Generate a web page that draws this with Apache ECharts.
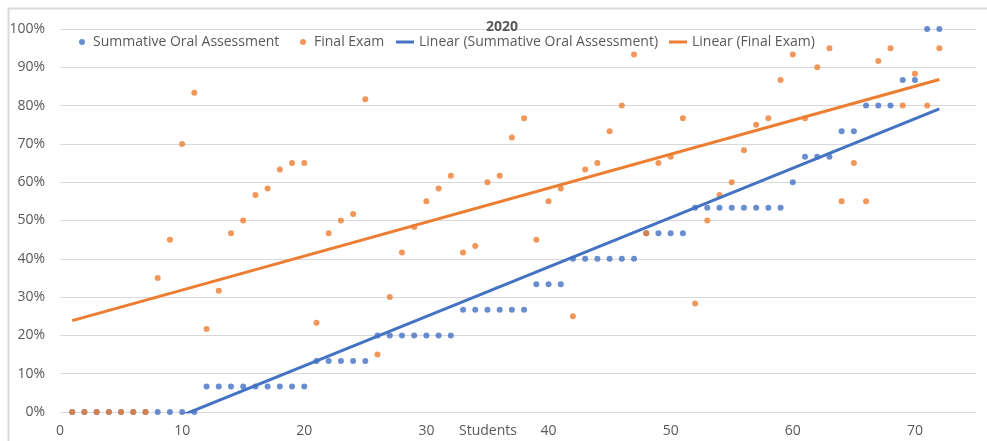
<!DOCTYPE html>
<html>
<head>
<meta charset="utf-8">
<script src="https://cdn.jsdelivr.net/npm/echarts@6/dist/echarts.min.js"></script>
<style>
  html, body { margin: 0; padding: 0; background: #ffffff; }
  #chart { width: 987px; height: 441px; }
</style>
</head>
<body>
<div id="chart"></div>
<script>
// ---- Data ----
var chartTitle = '2020';
var xAxisName = 'Students';
var seriesNames = ['Summative Oral Assessment', 'Final Exam',
                   'Linear (Summative Oral Assessment)', 'Linear (Final Exam)'];

// Summative Oral Assessment (%), students 1..72
var oralScores = [
  0, 0, 0, 0, 0, 0, 0, 0, 0, 0, 0,
  6.67, 6.67, 6.67, 6.67, 6.67, 6.67, 6.67, 6.67, 6.67,
  13.33, 13.33, 13.33, 13.33, 13.33,
  20, 20, 20, 20, 20, 20, 20,
  26.67, 26.67, 26.67, 26.67, 26.67, 26.67,
  33.33, 33.33, 33.33,
  40, 40, 40, 40, 40, 40,
  46.67, 46.67, 46.67, 46.67,
  53.33, 53.33, 53.33, 53.33, 53.33, 53.33, 53.33, 53.33,
  60,
  66.67, 66.67, 66.67,
  73.33, 73.33,
  80, 80, 80,
  86.67, 86.67,
  100, 100
];

// Final Exam (%), students 1..72
var finalScores = [
  0, 0, 0, 0, 0, 0, 0,
  35, 45, 70, 83.33, 21.67, 31.67, 46.67, 50, 56.67, 58.33, 63.33, 65, 65,
  23.33, 46.67, 50, 51.67, 81.67, 15, 30, 41.67, 48.33, 55,
  58.33, 61.67, 41.67, 43.33, 60, 61.67, 71.67, 76.67, 45, 55,
  58.33, 25, 63.33, 65, 73.33, 80, 93.33, 46.67, 65, 66.67,
  76.67, 28.33, 50, 56.67, 60, 68.33, 75, 76.67, 86.67, 93.33,
  76.67, 90, 95, 55, 65, 55, 91.67, 95, 80, 88.33,
  80, 95
];

var students = oralScores.map(function (_, i) { return i + 1; });

// ---- helpers ----
function pairs(xs, ys) { return xs.map(function (x, i) { return [x, ys[i]]; }); }
function trend(xs, ys) {
  var n = xs.length, sx = 0, sy = 0, sxx = 0, sxy = 0;
  for (var i = 0; i < n; i++) { sx += xs[i]; sy += ys[i]; sxx += xs[i] * xs[i]; sxy += xs[i] * ys[i]; }
  var b = (n * sxy - sx * sy) / (n * sxx - sx * sx);
  var a = (sy - b * sx) / n;
  var x0 = Math.min.apply(null, xs), x1 = Math.max.apply(null, xs);
  return [[x0, a + b * x0], [x1, a + b * x1]];
}

var BLUE = '#4472C4', ORANGE = '#ED7D31', TXT = '#595959', GRID = '#d9d9d9';
var FONT = 'Open Sans';

var chart = echarts.init(document.getElementById('chart'), null, { renderer: 'canvas' });

function legendFor(name, left, kind) {
  var isLine = kind === 'line';
  return {
    left: left, top: 35, padding: 0, selectedMode: false,
    data: [{ name: name, icon: isLine ? 'rect' : 'circle' }],
    itemWidth: isLine ? 18 : 12,
    itemHeight: isLine ? 3 : 6,
    textStyle: { color: TXT, fontSize: 14, fontFamily: FONT }
  };
}

chart.setOption({
  animation: false,
  backgroundColor: '#ffffff',
  graphic: [{
    type: 'rect', left: 6, top: 6, silent: true,
    shape: { width: 1000, height: 460 },
    style: { fill: 'none', stroke: GRID, lineWidth: 2 }
  }],
  title: {
    text: chartTitle, left: 486, top: 20, padding: 0,
    textStyle: { color: TXT, fontSize: 14, fontWeight: 'bold', fontFamily: FONT }
  },
  legend: [
    legendFor(seriesNames[0], 79, 'dot'),
    legendFor(seriesNames[1], 300, 'dot'),
    legendFor(seriesNames[2], 396, 'line'),
    legendFor(seriesNames[3], 669, 'line')
  ],
  grid: { left: 60, right: 11, top: 29, bottom: 29, containLabel: false, outerBoundsMode: 'none' },
  xAxis: {
    type: 'value', min: 0, max: 75, interval: 10,
    name: xAxisName, nameLocation: 'middle', nameGap: 12, nameMoveOverlap: false,
    nameTextStyle: { color: TXT, fontSize: 14, fontFamily: FONT, padding: [0, 60, 0, 0] },
    axisLine: { show: false }, axisTick: { show: false },
    splitLine: { show: false },
    axisLabel: {
      color: TXT, fontSize: 14, fontFamily: FONT, margin: 12,
      formatter: function (v) { return v % 10 === 0 ? String(v) : ''; }
    }
  },
  yAxis: {
    type: 'value', min: 0, max: 100, interval: 10,
    axisLine: { show: false }, axisTick: { show: false },
    splitLine: { lineStyle: { color: GRID, width: 1 } },
    axisLabel: { color: TXT, fontSize: 14, fontFamily: FONT, margin: 15, formatter: '{value}%' }
  },
  series: [
    { name: seriesNames[0], type: 'scatter', symbolSize: 6,
      itemStyle: { color: BLUE }, data: pairs(students, oralScores), z: 2 },
    { name: seriesNames[1], type: 'scatter', symbolSize: 6,
      itemStyle: { color: ORANGE }, data: pairs(students, finalScores), z: 3 },
    { name: seriesNames[2], type: 'line', showSymbol: false, clip: true,
      lineStyle: { color: BLUE, width: 3 }, itemStyle: { color: BLUE },
      data: trend(students, oralScores), z: 4 },
    { name: seriesNames[3], type: 'line', showSymbol: false, clip: true,
      lineStyle: { color: ORANGE, width: 3 }, itemStyle: { color: ORANGE },
      data: trend(students, finalScores), z: 4 }
  ]
});
</script>
</body>
</html>
